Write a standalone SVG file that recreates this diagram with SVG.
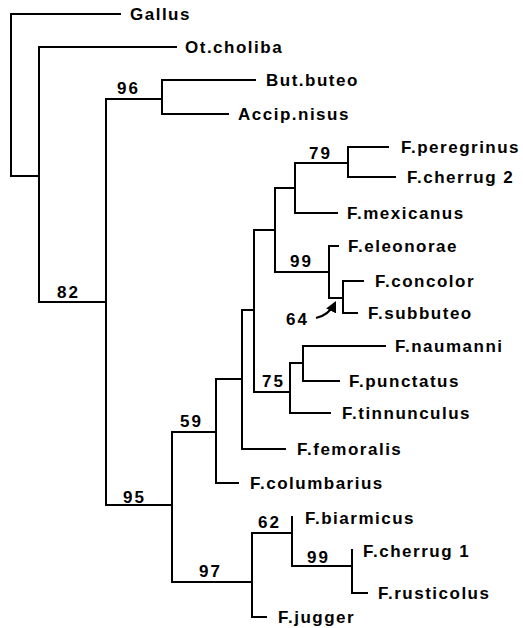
<svg xmlns="http://www.w3.org/2000/svg" width="523" height="628" viewBox="0 0 523 628">
<defs>
<style>
.t{font-family:"Liberation Sans",Arial,Helvetica,sans-serif;font-weight:bold;font-size:17px;letter-spacing:1.5px;fill:#000}
.n{font-family:"Liberation Sans",Arial,Helvetica,sans-serif;font-weight:bold;font-size:17px;letter-spacing:2px;fill:#000}
.e{fill:none;stroke:#000;stroke-width:2;stroke-linecap:square;stroke-linejoin:miter}
</style>
<marker id="ah" viewBox="0 0 10 10" refX="8" refY="5" markerWidth="5" markerHeight="5" orient="auto">
<path d="M0,0 L10,5 L0,10 z" fill="#000"/>
</marker>
</defs>
<rect width="523" height="628" fill="#fff"/>
<g id="connectors">
<path class="e" d="M120,14 H11 V176 H39"/>
<path class="e" d="M176,47 H39 V302 H106"/>
<path class="e" d="M162,99 H106 V505 H172"/>
<path class="e" d="M255,80 H162 V114 H228"/>
<path class="e" d="M216,432 H172 V582 H252"/>
<path class="e" d="M242,379 H216 V483 H238"/>
<path class="e" d="M254,310 H242 V449 H285"/>
<path class="e" d="M275,230 H254 V392 H290"/>
<path class="e" d="M295,188 H275 V272 H329"/>
<path class="e" d="M348,163 H295 V213 H337"/>
<path class="e" d="M388,147 H348 V177 H395"/>
<path class="e" d="M338,246 H329 V298 H343"/>
<path class="e" d="M363,281 H343 V313 H357"/>
<path class="e" d="M303,363 H290 V413 H330"/>
<path class="e" d="M385,346 H303 V381 H339"/>
<path class="e" d="M292,533 H252 V617 H266"/>
<path class="e" d="M292,517 V566 H352"/>
<path class="e" d="M352,550 V593 H367"/>
<path d="M316,318 Q329,315 335,303" fill="none" stroke="#000" stroke-width="2.2" marker-end="url(#ah)"/>
</g>
<g id="labels">
<text class="n" x="117" y="94">96</text>
<text class="n" x="57" y="298">82</text>
<text class="n" x="309" y="159">79</text>
<text class="n" x="290" y="267">99</text>
<text class="n" x="286" y="325">64</text>
<text class="n" x="262" y="387">75</text>
<text class="n" x="180" y="427">59</text>
<text class="n" x="123" y="503">95</text>
<text class="n" x="258" y="528">62</text>
<text class="n" x="199" y="577">97</text>
<text class="n" x="307" y="563">99</text>
</g>
<g id="Gallus"><text class="t" x="130" y="20">Gallus</text></g>
<g id="Ot_choliba"><text class="t" x="185" y="53">Ot.choliba</text></g>
<g id="But_buteo"><text class="t" x="266" y="86">But.buteo</text></g>
<g id="Accip_nisus"><text class="t" x="238" y="120">Accip.nisus</text></g>
<g id="F_peregrinus"><text class="t" x="401" y="153">F.peregrinus</text></g>
<g id="F_cherrug_2"><text class="t" x="407" y="183">F.cherrug 2</text></g>
<g id="F_mexicanus"><text class="t" x="347" y="219">F.mexicanus</text></g>
<g id="F_eleonorae"><text class="t" x="348" y="252">F.eleonorae</text></g>
<g id="F_concolor"><text class="t" x="375" y="287">F.concolor</text></g>
<g id="F_subbuteo"><text class="t" x="368" y="319">F.subbuteo</text></g>
<g id="F_naumanni"><text class="t" x="395" y="352">F.naumanni</text></g>
<g id="F_punctatus"><text class="t" x="349" y="387">F.punctatus</text></g>
<g id="F_tinnunculus"><text class="t" x="342" y="419">F.tinnunculus</text></g>
<g id="F_femoralis"><text class="t" x="297" y="455">F.femoralis</text></g>
<g id="F_columbarius"><text class="t" x="250" y="489">F.columbarius</text></g>
<g id="F_biarmicus"><text class="t" x="305" y="524">F.biarmicus</text></g>
<g id="F_cherrug_1"><text class="t" x="363" y="557">F.cherrug 1</text></g>
<g id="F_rusticolus"><text class="t" x="378" y="599">F.rusticolus</text></g>
<g id="F_jugger"><text class="t" x="278" y="623">F.jugger</text></g>
</svg>
